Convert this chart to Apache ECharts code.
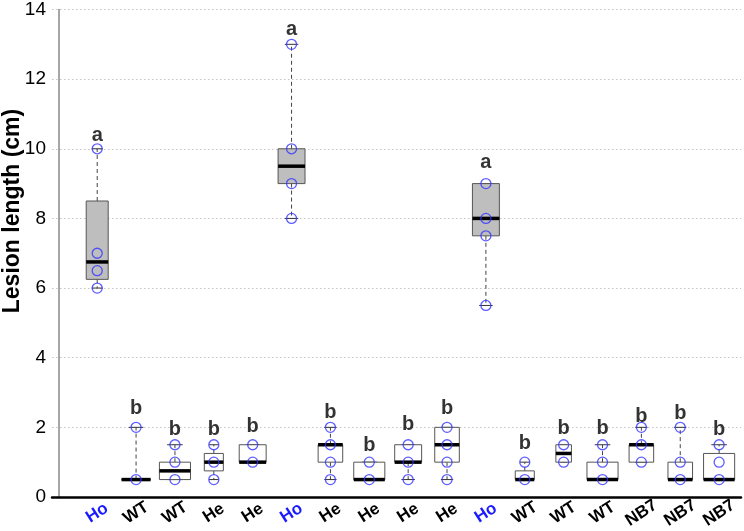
<!DOCTYPE html>
<html>
<head>
<meta charset="utf-8">
<script src="https://cdn.jsdelivr.net/npm/echarts@6/dist/echarts.min.js"></script>
<style>
html,body{margin:0;padding:0;background:#fff;}
#chart{width:744px;height:531px;}
</style>
</head>
<body>
<div id="chart"></div>
<script>
// ---- data ----
var categories = ['Ho','WT','WT','He','He','Ho','He','He','He','He','Ho','WT','WT','WT','NB7','NB7','NB7'];
var lows    = [6,    0.5, 0.5,  0.5,  1.0, 8,    0.5, 0.5, 0.5, 0.5, 5.5, 0.5,  1.0,  0.5, 1.0, 0.5, 0.5];
var q1s     = [6.25, 0.5, 0.5,  0.75, 1.0, 9,    1.0, 0.5, 1.0, 1.0, 7.5, 0.5,  1.0,  0.5, 1.0, 0.5, 0.5];
var medians = [6.75, 0.5, 0.75, 1.0,  1.0, 9.5,  1.5, 0.5, 1.0, 1.5, 8.0, 0.5,  1.25, 0.5, 1.5, 0.5, 0.5];
var q3s     = [8.5,  0.5, 1.0,  1.25, 1.5, 10,   1.5, 1.0, 1.5, 2.0, 9.0, 0.75, 1.5,  1.0, 1.5, 1.0, 1.25];
var highs   = [10,   2,   1.5,  1.5,  1.5, 13,   2,   1.0, 1.5, 2.0, 9.0, 1.0,  1.5,  1.5, 2.0, 2.0, 1.5];
var counts  = [4, 7, 8, 3, 6, 6, 5, 8, 6, 5, 6, 3, 2, 8, 5, 5, 8];
var points = [
  [6, 6.5, 7, 10],
  [0.5, 2],
  [0.5, 1, 1.5],
  [0.5, 1, 1.5],
  [1, 1.5],
  [8, 9, 10, 13],
  [0.5, 1, 1.5, 2],
  [0.5, 1],
  [0.5, 1, 1.5],
  [0.5, 1, 1.5, 2],
  [5.5, 7.5, 8, 9],
  [0.5, 1],
  [1, 1.5],
  [0.5, 1, 1.5],
  [1, 1.5, 2],
  [0.5, 1, 2],
  [0.5, 1, 1.5]
];
var letters = ['a','b','b','b','b','a','b','b','b','b','a','b','b','b','b','b','b'];
var letterY = [10.39, 2.55, 1.93, 1.95, 2.02, 13.43, 2.43, 1.48, 2.08, 2.53, 9.62, 1.53, 1.98, 1.98, 2.31, 2.4, 1.93];
var yTicks = [0, 2, 4, 6, 8, 10, 12, 14];
var yTitle = 'Lesion length (cm)';

// ---- build ----
var FONT = '"Liberation Sans", Arial, sans-serif';
var maxCount = Math.max.apply(null, counts);
var boxData = categories.map(function (c, i) {
  return [i + 1, lows[i], q1s[i], medians[i], q3s[i], highs[i], counts[i], c === 'Ho' ? 1 : 0];
});
var pointData = [];
points.forEach(function (arr, i) {
  arr.forEach(function (v) { pointData.push([i + 1, v]); });
});
var letterData = letters.map(function (l, i) { return [i + 1, letterY[i], l]; });
var xPositions = categories.map(function (c, i) { return i + 1; });

var chart = echarts.init(document.getElementById('chart'), null, {renderer: 'canvas'});
chart.setOption({
  animation: false,
  backgroundColor: '#fff',
  grid: {left: 52, right: 3, top: 7, bottom: 34},
  xAxis: {
    type: 'value',
    min: -0.163,
    max: 17.563,
    splitLine: {show: false},
    axisTick: {show: false},
    axisLine: {show: true, onZero: false, lineStyle: {color: '#000', width: 2.5}},
    axisLabel: {
      customValues: xPositions,
      rotate: 33,
      align: 'center',
      verticalAlign: 'middle',
      margin: 16,
      formatter: function (v) {
        var name = categories[Math.round(v) - 1] || '';
        return name === 'Ho' ? '{ho|' + name + '}' : '{n|' + name + '}';
      },
      rich: {
        ho: {color: '#1a1aff', fontWeight: 'bold', fontSize: 17, fontFamily: FONT},
        n: {color: '#000', fontWeight: 'bold', fontSize: 17, fontFamily: FONT}
      }
    }
  },
  yAxis: {
    type: 'value',
    min: 0,
    max: 14,
    interval: 2,
    axisLine: {show: true, lineStyle: {color: '#888', width: 1.5}},
    axisTick: {show: false},
    axisLabel: {color: '#000', fontSize: 19, fontFamily: FONT, margin: 6,
      customValues: yTicks},
    splitLine: {show: true, lineStyle: {color: '#c4c4c4', width: 1, type: [1.5, 2.5]}}
  },
  graphic: [{
    type: 'text',
    rotation: Math.PI / 2,
    x: 13, y: 211,
    style: {text: yTitle, font: 'bold 23px ' + FONT, fill: '#000',
      align: 'center', verticalAlign: 'middle'}
  }],
  series: [
    {
      type: 'custom',
      data: boxData,
      z: 2,
      renderItem: function (params, api) {
        var x = api.value(0);
        var n = api.value(6);
        var ho = api.value(7) === 1;
        var unit = api.size([1, 0])[0];
        var w = 0.8 * unit * Math.sqrt(n / maxCount);
        var pL = api.coord([x, api.value(1)]);
        var p1 = api.coord([x, api.value(2)]);
        var pM = api.coord([x, api.value(3)]);
        var p3 = api.coord([x, api.value(4)]);
        var pH = api.coord([x, api.value(5)]);
        var cx = pL[0];
        var cap = w / 2;
        var dash = {stroke: '#444', lineWidth: 1, lineDash: [4, 3]};
        var solid = {stroke: '#333', lineWidth: 1};
        return {
          type: 'group',
          children: [
            {type: 'line', shape: {x1: cx, y1: p3[1], x2: cx, y2: pH[1]}, style: dash},
            {type: 'line', shape: {x1: cx, y1: p1[1], x2: cx, y2: pL[1]}, style: dash},
            {type: 'line', shape: {x1: cx - cap / 2, y1: pH[1], x2: cx + cap / 2, y2: pH[1]}, style: solid},
            {type: 'line', shape: {x1: cx - cap / 2, y1: pL[1], x2: cx + cap / 2, y2: pL[1]}, style: solid},
            {type: 'rect', shape: {x: cx - w / 2, y: p3[1], width: w, height: p1[1] - p3[1]},
              style: {fill: ho ? '#bebebe' : '#fff', stroke: '#555', lineWidth: 1}},
            {type: 'line', shape: {x1: cx - w / 2, y1: pM[1], x2: cx + w / 2, y2: pM[1]},
              style: {stroke: '#000', lineWidth: 3.5}}
          ]
        };
      }
    },
    {
      type: 'scatter',
      data: pointData,
      z: 3,
      symbol: 'circle',
      symbolSize: 10,
      itemStyle: {color: 'rgba(0,0,0,0)', borderColor: '#3535ff', borderWidth: 1.3}
    },
    {
      type: 'scatter',
      data: letterData,
      z: 4,
      symbolSize: 0,
      label: {
        show: true,
        position: 'inside',
        formatter: function (p) { return p.data[2]; },
        color: '#000',
        fontWeight: 'bold',
        fontSize: 20,
        fontFamily: FONT
      }
    }
  ]
});
</script>
</body>
</html>
